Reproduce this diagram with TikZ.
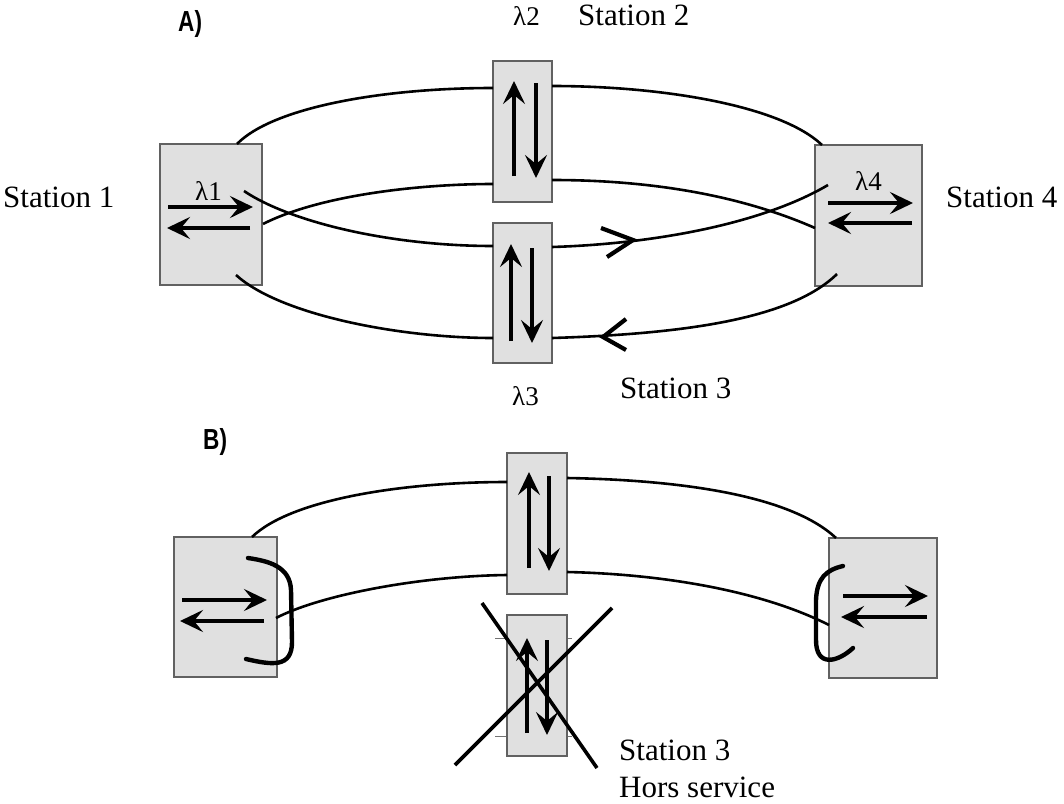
\documentclass[tikz,border=0pt]{standalone}
\usepackage{fontspec}
\setmainfont{Liberation Serif}
\setsansfont{Liberation Sans}
\usetikzlibrary{arrows.meta}
\tikzset{
  box/.style={draw=black!62, fill=black!12, line width=1.3pt, inner sep=0pt},
  ring/.style={line width=2.6pt},
  dirarr/.style={line width=3.6pt, -{Stealth[length=23pt,width=22pt,inset=9pt]}},
  chev/.style={line width=4.2pt},
  brk/.style={line width=4.4pt, line cap=round},
  cross/.style={line width=3.6pt},
  tick/.style={line width=0.8pt, draw=black!55},
  stn/.style={inner sep=0pt, anchor=base west, font=\fontsize{31}{36}\selectfont},
  lam/.style={inner sep=0pt, anchor=base west, font=\fontsize{27}{32}\selectfont},
  hdr/.style={inner sep=0pt, anchor=base west, font=\fontsize{29}{34}\selectfont\sffamily\bfseries}
}
\begin{document}
\begin{tikzpicture}[x=1pt,y=-1pt]
\useasboundingbox (0,0) rectangle (1064,803);

% ---------- Part A boxes ----------
\node[box, minimum width=102pt, minimum height=141pt] (s1) at (211,214.5) {};
\node[box, minimum width=59pt, minimum height=141pt] (s2) at (522.5,131.5) {};
\node[box, minimum width=59pt, minimum height=140pt] (s3) at (522.5,293) {};
\node[box, minimum width=107pt, minimum height=141pt] (s4) at (868.5,215.5) {};

% ring end points A
\coordinate (a1a) at (237,144);  \coordinate (a1b) at (493,88);
\coordinate (a2a) at (552,86);   \coordinate (a2b) at (822,145);
\coordinate (a3a) at (263,224);  \coordinate (a3b) at (493,184);
\coordinate (a4a) at (552,180);  \coordinate (a4b) at (815,228);
\coordinate (a5a) at (244,191);  \coordinate (a5b) at (493,246);
\coordinate (a6a) at (552,247);  \coordinate (a6b) at (828,185);
\coordinate (a7a) at (236,275);  \coordinate (a7b) at (493,338);
\coordinate (a8a) at (552,338);  \coordinate (a8b) at (837,274);

\draw[ring] (a1a) .. controls (272,108) and (380,88) .. (a1b);
\draw[ring] (a2a) .. controls (660,86) and (780,105) .. (a2b);
\draw[ring] (a3a) .. controls (320,195) and (420,184) .. (a3b);
\draw[ring] (a4a) .. controls (650,180) and (740,195) .. (a4b);
\draw[ring] (a5a) .. controls (290,222) and (390,246) .. (a5b);
\draw[ring] (a6a) .. controls (650,244) and (760,225) .. (a6b);
\draw[ring] (a7a) .. controls (280,315) and (400,338) .. (a7b);
\draw[ring] (a8a) .. controls (680,334) and (790,320) .. (a8b);

% chevrons on the ring
\coordinate (cv1) at (633,240);
\coordinate (cv2) at (603,337);
\draw[chev] (601,228) -- (cv1) -- (607,257);
\draw[chev] (626,319) -- (cv2) -- (626,350);

% station arrows A
\draw[dirarr] (168,207) -- (253,207);
\draw[dirarr] (250,228) -- (167,228);
\draw[dirarr, line width=3.2pt] (514,176) -- (514,81);
\draw[dirarr, line width=3.2pt] (536,83) -- (536,178);
\draw[dirarr, line width=3.2pt] (511,341) -- (511,244);
\draw[dirarr, line width=3.2pt] (532,248) -- (532,343);
\draw[dirarr] (828,203) -- (913,203);
\draw[dirarr] (912,223) -- (828,223);

% labels A
\node[hdr] (ha) at (178,31) {\scalebox{0.78}[1]{A)}};
\node[lam] (l2) at (513,25) {λ2};
\node[stn] (t2) at (578,25) {Station 2};
\node[stn] (t1) at (3,207) {Station 1};
\node[stn] (t4) at (946,207) {Station 4};
\node[lam] (l1) at (195,200) {λ1};
\node[lam] (l4) at (855,190) {λ4};
\node[lam] (l3) at (512,405) {λ3};
\node[stn] (t3) at (620,398) {Station 3};

% ---------- Part B boxes ----------
\node[box, minimum width=103pt, minimum height=140pt] (b1) at (225.5,607) {};
\node[box, minimum width=60pt, minimum height=141pt] (b2) at (537,523.5) {};
\node[box, minimum width=60pt, minimum height=141pt] (b3) at (537,685.5) {};
\node[box, minimum width=108pt, minimum height=140pt] (b4) at (883,608) {};

\coordinate (c1a) at (252,537);  \coordinate (c1b) at (507,482);
\coordinate (c2a) at (567,478);  \coordinate (c2b) at (836,538);
\coordinate (c3a) at (276,618);  \coordinate (c3b) at (507,575);
\coordinate (c4a) at (567,572);  \coordinate (c4b) at (829,625);

\draw[ring] (c1a) .. controls (290,500) and (400,482) .. (c1b);
\draw[ring] (c2a) .. controls (680,480) and (790,495) .. (c2b);
\draw[ring] (c3a) .. controls (320,595) and (420,576) .. (c3b);
\draw[ring] (c4a) .. controls (660,574) and (760,590) .. (c4b);

% loop-back brackets
\draw[brk] (248,558) .. controls (268,561) and (290,566) .. (291,590)
           -- (292,642) .. controls (292,668) and (272,665) .. (246,659);
\draw[brk] (843,566) .. controls (826,570) and (817,578) .. (816,600)
           -- (816,640) .. controls (816,668) and (838,662) .. (853,648);

% station arrows B
\draw[dirarr] (182,600) -- (267,600);
\draw[dirarr] (264,621) -- (180,621);
\draw[dirarr, line width=3.2pt] (529,568) -- (529,472);
\draw[dirarr, line width=3.2pt] (549,476) -- (549,571);
\draw[dirarr, line width=3.2pt] (527,733) -- (527,638);
\draw[dirarr, line width=3.2pt] (547,640) -- (547,735);
\draw[dirarr] (843,596) -- (928,596);
\draw[dirarr] (927,617) -- (841,617);

% broken station 3
\draw[tick] (495,638) -- (b3.west |- 0,638);
\draw[tick] (495,736) -- (b3.west |- 0,736);
\draw[tick] (b3.east |- 0,638) -- (572,638);
\draw[tick] (b3.east |- 0,736) -- (572,736);
\draw[cross] (482,603) -- (597,768);
\draw[cross] (612,608) -- (455,765);

% labels B
\node[hdr] (hb) at (203,449) {\scalebox{0.78}[1]{B)}};
\node[stn] (t3b) at (619,760) {Station 3};
\node[stn] (hs) at (619,797) {Hors service};
\end{tikzpicture}
\end{document}
